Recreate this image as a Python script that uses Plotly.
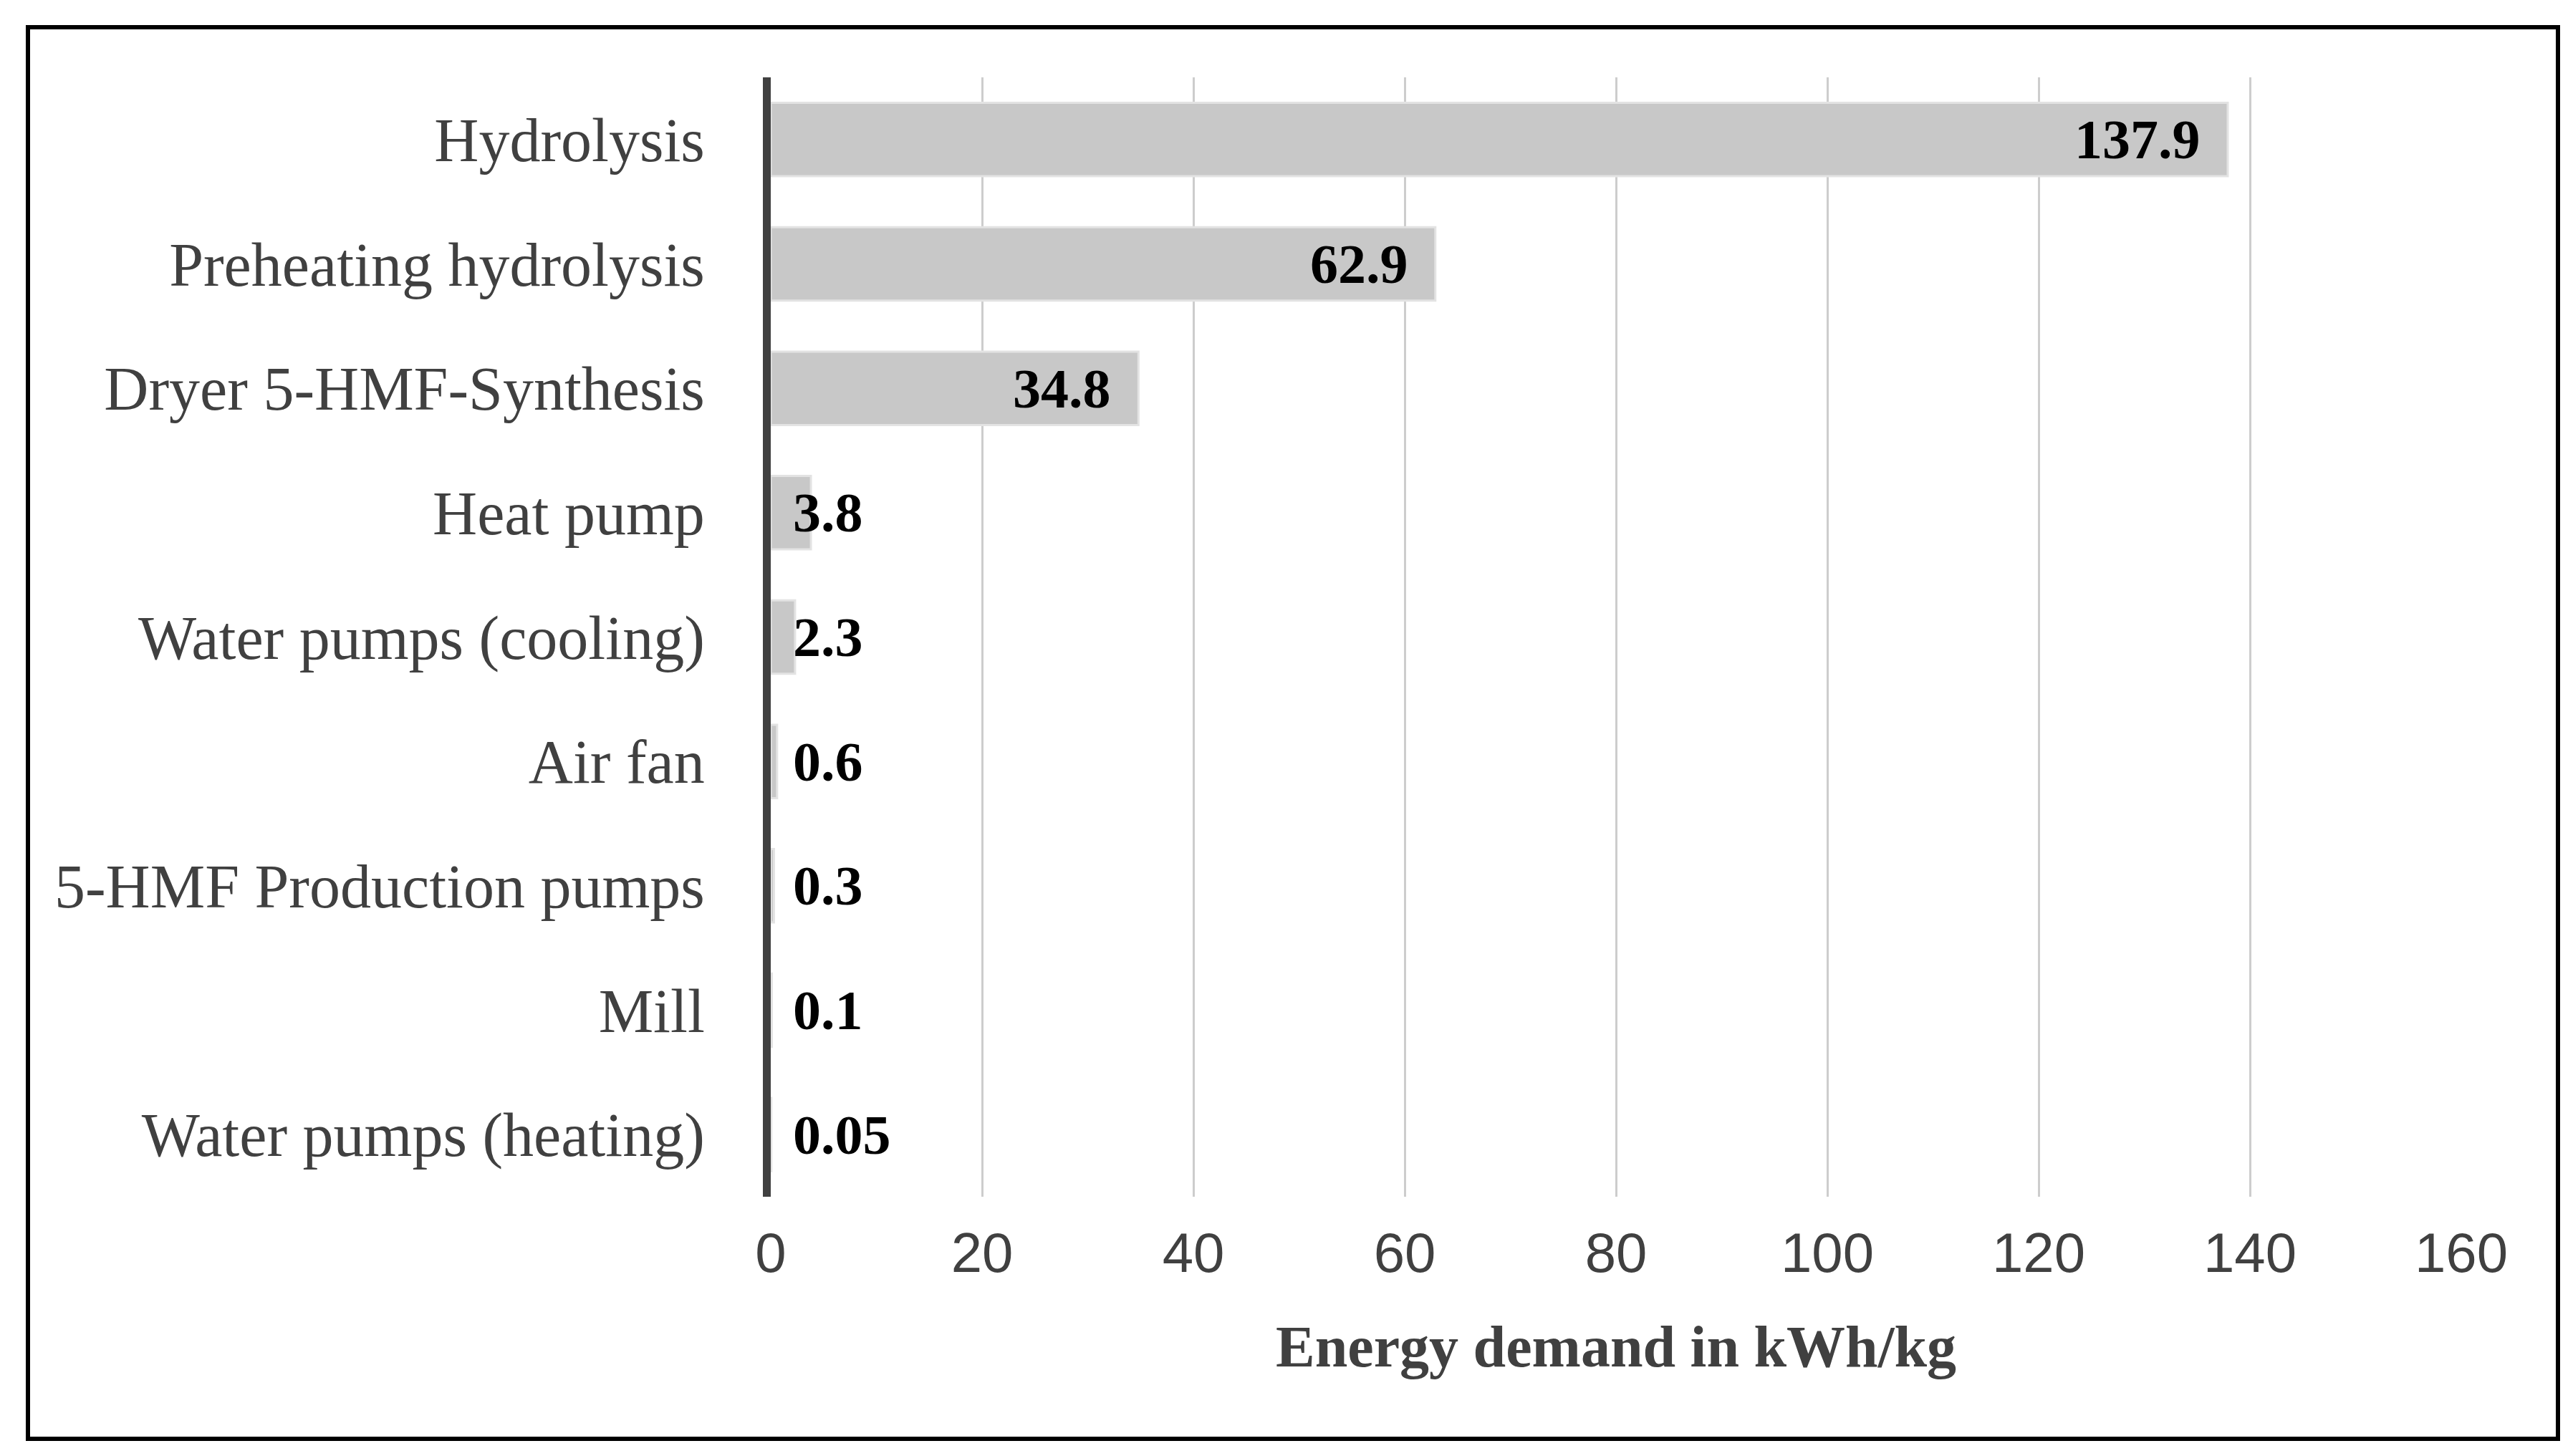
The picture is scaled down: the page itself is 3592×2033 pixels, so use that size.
import plotly.graph_objects as go

categories = [
    "Hydrolysis",
    "Preheating hydrolysis",
    "Dryer 5-HMF-Synthesis",
    "Heat pump",
    "Water pumps (cooling)",
    "Air fan",
    "5-HMF Production pumps",
    "Mill",
    "Water pumps (heating)",
]
values = [137.9, 62.9, 34.8, 3.8, 2.3, 0.6, 0.3, 0.1, 0.05]
value_labels = ["137.9", "62.9", "34.8", "3.8", "2.3", "0.6", "0.3", "0.1", "0.05"]
x_ticks = [0, 20, 40, 60, 80, 100, 120, 140, 160]
x_title = "Energy demand in kWh/kg"

W, H = 3592, 2033
L, R, T, B = 1068, 164, 100, 370
plot_w = W - L - R
plot_h = H - T - B

fig = go.Figure()
fig.add_trace(go.Bar(
    x=values,
    y=categories,
    orientation="h",
    marker=dict(color="#c8c8c8", line=dict(color="#e3e3e3", width=3)),
    hoverinfo="x+y",
    showlegend=False,
))

label_font = dict(family="Liberation Serif", size=78, color="#000000")
annotations = []
for cat, v, lab in zip(categories, values, value_labels):
    if v >= 10:
        annotations.append(dict(x=v, y=cat, xref="x", yref="y", text="<b>" + lab + "</b>",
                                showarrow=False, xanchor="right", yanchor="middle",
                                xshift=-36, font=label_font))
    else:
        annotations.append(dict(x=0, y=cat, xref="x", yref="y", text="<b>" + lab + "</b>",
                                showarrow=False, xanchor="left", yanchor="middle",
                                xshift=29, font=label_font))

annotations.append(dict(
    x=0.5, y=(H - B - 1872) / plot_h, xref="paper", yref="paper",
    text="<b>" + x_title + "</b>", showarrow=False, xanchor="center", yanchor="middle",
    font=dict(family="Liberation Serif", size=82, color="#404040"),
))

# outer frame (figure pixels converted to paper coordinates)
def px_x(px):
    return (px - L) / plot_w

def px_y(py):
    return (H - B - py) / plot_h

shapes = [dict(type="rect", xref="paper", yref="paper",
               x0=px_x(31), x1=px_x(3563), y0=px_y(2001), y1=px_y(30),
               line=dict(color="#000000", width=6), fillcolor="rgba(0,0,0,0)",
               layer="above")]

fig.update_layout(
    width=W, height=H,
    margin=dict(l=L, r=R, t=T, b=B, autoexpand=False),
    paper_bgcolor="white", plot_bgcolor="white",
    bargap=0.41,
    annotations=annotations,
    shapes=shapes,
    xaxis=dict(
        range=[0, 160], tickvals=x_ticks, ticktext=[str(t) for t in x_ticks],
        showgrid=True, gridcolor="#cdcdcd", gridwidth=3,
        zeroline=False, showline=False,
        ticks="outside", ticklen=10, tickcolor="rgba(0,0,0,0)",
        tickfont=dict(family="Liberation Sans", size=78, color="#404040"),
        fixedrange=True,
    ),
    yaxis=dict(
        categoryorder="array", categoryarray=categories, autorange="reversed",
        showgrid=False, zeroline=False,
        showline=True, linecolor="#404040", linewidth=11,
        ticks="outside", ticklen=64, tickcolor="rgba(0,0,0,0)",
        tickfont=dict(family="Liberation Serif", size=86, color="#404040"),
        fixedrange=True,
    ),
)

fig.write_html("out.html")
